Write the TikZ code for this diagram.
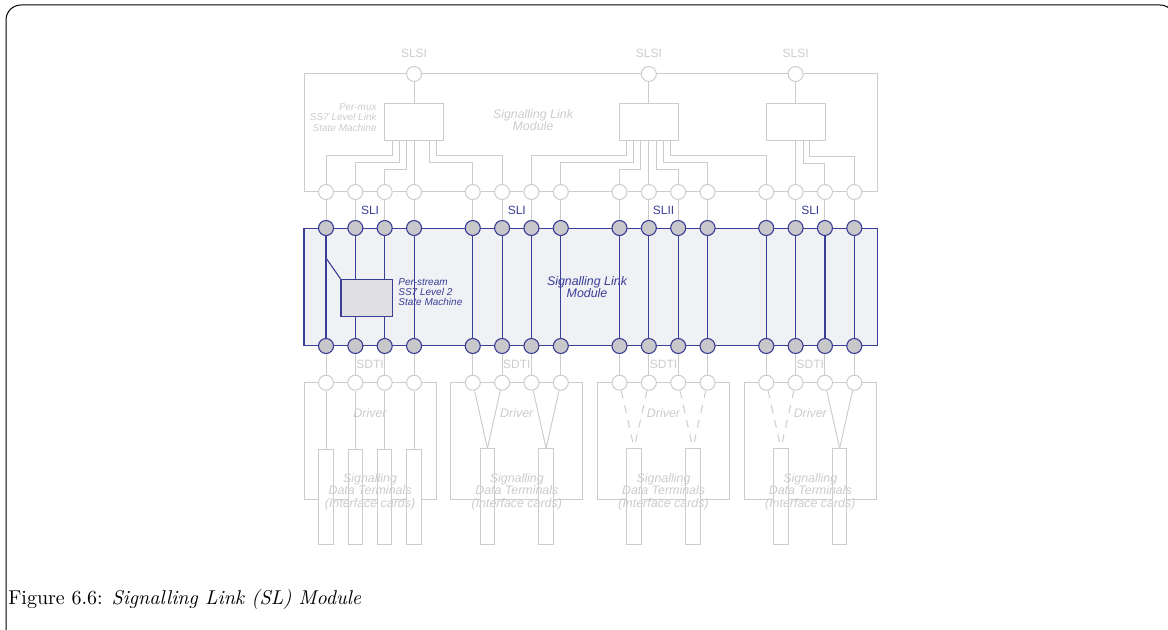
\documentclass[tikz,border=0pt]{standalone}
\usepackage{fontspec}
\newfontfamily\hvfont{Liberation Sans}
\usepackage{tikz}
\usetikzlibrary{positioning, calc}

\definecolor{lgray}{RGB}{204,204,204}
\definecolor{slblue}{RGB}{58,62,150}
\definecolor{slfill}{RGB}{240,241,244}
\definecolor{pgray}{RGB}{200,200,203}
\definecolor{lfill}{RGB}{224,224,227}

\begin{document}
\begin{tikzpicture}[x=0.5pt, y=-0.5pt,
  port/.style={circle, draw=lgray, fill=white, line width=0.5pt, minimum size=7.5pt, inner sep=0pt},
  bport/.style={circle, draw=slblue, fill=pgray, line width=0.55pt, minimum size=7.5pt, inner sep=0pt},
  gline/.style={draw=lgray, line width=0.5pt},
  bline/.style={draw=slblue, line width=0.55pt},
  vdash/.style={dash pattern=on 4pt off 3.5pt},
  muxbox/.style={rectangle, draw=lgray, fill=white, line width=0.5pt, minimum width=29.5pt, minimum height=18.5pt, inner sep=0pt},
  card/.style={rectangle, draw=lgray, fill=white, line width=0.5pt, minimum width=7.2pt, minimum height=47.8pt, inner sep=0pt},
  drvbox/.style={rectangle, draw=lgray, line width=0.5pt, minimum width=66pt, minimum height=58.3pt, inner sep=0pt},
  slbox/.style={rectangle, draw=slblue, fill=slfill, line width=0.55pt, minimum width=286.85pt, minimum height=58.85pt, inner sep=0pt},
  lbox/.style={rectangle, draw=slblue, fill=lfill, line width=0.55pt, minimum width=25.65pt, minimum height=18.7pt, inner sep=0pt},
  gtxt/.style={text=lgray, inner sep=0pt, font=\hvfont\fontsize{6}{6}\selectfont},
  gitxt/.style={text=lgray, inner sep=0pt, align=center, font=\hvfont\itshape\fontsize{6.2}{6.2}\selectfont},
  gstxt/.style={text=lgray, inner sep=0pt, align=right, font=\hvfont\itshape\fontsize{5}{5.15}\selectfont},
  btxt/.style={text=slblue, inner sep=0pt, font=\hvfont\fontsize{6}{6}\selectfont},
  bitxt/.style={text=slblue, inner sep=0pt, align=center, font=\hvfont\itshape\fontsize{6.2}{6}\selectfont},
  bstxt/.style={text=slblue, inner sep=0pt, align=left, font=\hvfont\itshape\fontsize{5}{5.15}\selectfont}]
  \useasboundingbox (0,0) rectangle (1168,630);

  % 外框
  \draw[line width=0.5pt, rounded corners=7.5pt] (6,5) rectangle (1175,644);

  % 信令链路模块底板
  \node[slbox] (slm) at (590.85,287) {};

  % 驱动框
  \foreach \g in {0,...,3} {
    \node[drvbox] (dr\g) at ({370+146.75*\g},441) {};
  }

  % 各列端口
  \foreach \n/\k in {1/0,2/1,3/2,4/3,5/5,6/6,7/7,8/8,9/10,10/11,11/12,12/13,13/15,14/16,15/17,16/18} {
    \node[port] (ps\n) at ({326+29.35*\k},192) {};
    \node[bport] (ti\n) at ({326+29.35*\k},228) {};
    \node[bport] (bo\n) at ({326+29.35*\k},346) {};
    \node[port] (pd\n) at ({326+29.35*\k},382.7) {};
  }

  % SLSI 端口与状态机
  \node[port] (sl1) at (ps4 |- 0,74) {};
  \node[port] (sl2) at (ps10 |- 0,74) {};
  \node[port] (sl3) at (ps14 |- 0,74) {};
  \node[muxbox, below=10.75pt of sl1] (mL) {};
  \node[muxbox, below=10.75pt of sl2] (mM) {};
  \node[muxbox, below=10.75pt of sl3] (mR) {};
  \foreach \i in {1,2,3} {
    \node[gtxt, above=4pt of sl\i] (tsl\i) {SLSI};
  }
  \draw[gline] (sl1) -- (mL);
  \draw[gline] (sl2) -- (mM);
  \draw[gline] (sl3) -- (mR);

  % 上方总线
  \coordinate (nw) at (304,74);
  \coordinate (ne) at (877,74);
  \draw[gline] (ps1) -| (nw) -- (sl1) -- (sl2) -- (sl3) -- (ne) |- (ps16);
  \foreach \n [count=\m from 2] in {1,...,15} {
    \draw[gline] (ps\n) -- (ps\m);
  }

  % 状态机到端口的连线
  \draw[gline] (mL) -- (ps4);
  \draw[gline] (mM) -- (ps10);
  \draw[gline] (mR) -- (ps14);
  \foreach \dx/\dy/\p in {-22/14/1,-14.5/21/2,-7.5/28/3,15/21/5,22.5/14/6} {
    \draw[gline] ($(mL.south)+(\dx,0)$) -- ++(0,\dy) -| (ps\p);
  }
  \foreach \dx/\dy/\p in {-22/14/7,-15/21/8,-8/28/9,8/28/11,15/21/12,22/14/13} {
    \draw[gline] ($(mM.south)+(\dx,0)$) -- ++(0,\dy) -| (ps\p);
  }
  \foreach \dx/\dy/\p in {8/22/15,14/15/16} {
    \draw[gline] ($(mR.south)+(\dx,0)$) -- ++(0,\dy) -| (ps\p);
  }

  % 竖线
  \foreach \n in {1,...,16} {
    \draw[gline] (ps\n) -- (ti\n);
    \draw[bline] (ti\n) -- (bo\n);
    \draw[gline] (bo\n) -- (pd\n);
  }

  % 每流状态机
  \node[lbox] (l2sm) at (366.65,298) {};
  \coordinate (tap) at (ti1 |- 0,258);
  \draw[bline] (tap) -- (l2sm.north west);

  % 接口卡
  \foreach \n in {1,...,4} {
    \node[card, below=29pt of pd\n] (cd\n) {};
    \draw[gline] (pd\n) -- (cd\n);
  }
  \foreach \a/\b/\st in {5/6/solid,7/8/solid,9/10/vdash,11/12/vdash,13/14/vdash,15/16/solid} {
    \node[card, anchor=north] (cv\a) at ($(pd\a)!.5!(pd\b)+(0,65.6)$) {};
    \draw[gline,\st] (pd\a) -- (cv\a.north);
    \draw[gline,\st] (pd\b) -- (cv\a.north);
  }

  % 标签
  \foreach \a/\b/\t [count=\g] in {2/3/SLI,6/7/SLI,10/11/SLII,14/15/SLI} {
    \node[btxt] (sli\g) at ($(ps\a)!.5!(ti\b)$) {\t};
    \node[gtxt] (sdti\g) at ($(bo\a)!.5!(pd\b)$) {SDTI};
    \node[gitxt] (drv\g) at ($(pd\a)!.5!(pd\b)+(0,30.6)$) {Driver};
    \node[gitxt] (sdt\g) at ($(pd\a)!.5!(pd\b)+(0,109)$) {Signalling\\Data Terminals\\(Interface cards)};
  }
  \node[gstxt, anchor=east] (pmtxt) at (377,117.5) {Per-mux\\SS7 Level Link\\State Machine};
  \node[gitxt] (slmtop) at (533,120) {Signalling Link\\Module};
  \node[bstxt, anchor=west] (pstxt) at (398,292) {Per-stream\\SS7 Level 2\\State Machine};
  \node[bitxt] (slmtxt) at (587,287) {Signalling Link\\Module};

  % 图题
  \node[anchor=base west, inner sep=0pt] (cap) at (8,604) {Figure 6.6: \textit{Signalling Link (SL) Module}};
\end{tikzpicture}
\end{document}
